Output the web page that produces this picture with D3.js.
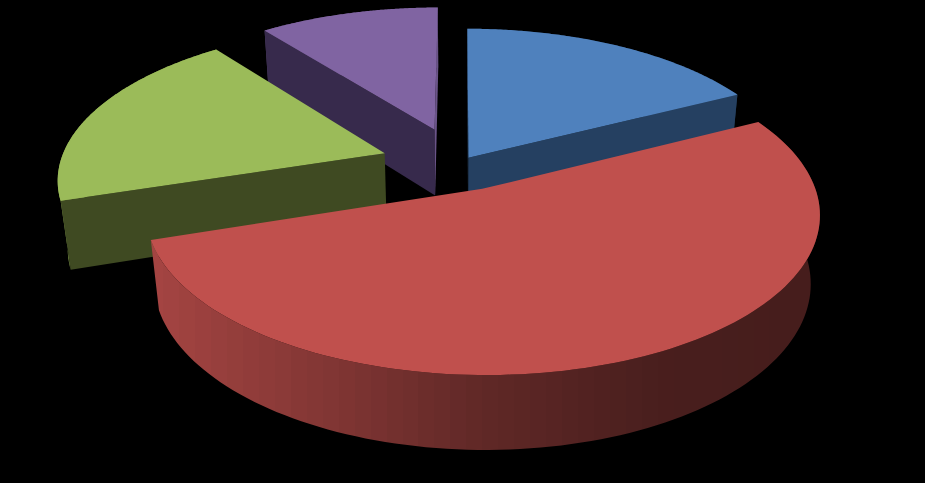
<!DOCTYPE html>
<html>
<head>
<meta charset="utf-8">
<script src="https://cdn.jsdelivr.net/npm/d3@7"></script>
<style>
  html, body { margin: 0; padding: 0; background: #000; }
  svg { display: block; }
</style>
</head>
<body>
<svg id="chart" width="925" height="483"></svg>
<script>
// share of each slice (clockwise from the top)
const sliceNames = ['blue', 'red', 'green', 'purple'];
const sliceValues = [17.5, 52.5, 19.5, 10.5];
const sliceExplode = [0.05, 0.175, 0.245, 0.25];
const topColors = ['#4f81bd', '#c0504d', '#9bbb59', '#8064a2'];
const cutColors = ['#254061', '#632523', '#3f4a22', '#372a4c'];
const edgeColors = ['#254061', '#632523', '#4f5d2b', '#6a5488'];
const drawOrder = [3, 0, 2, 1]; // back to front

const width = 925;
const height = 483;

// perspective set up
const cx = 460, cy = 164;
const radiusX = 325, radiusY = 150;
const depthK = 0.15;   // how fast things grow toward the viewer
const wallH = 69;
const wallK = 0.025;
const bands = 44;

const project = (u, v, z) => {
  const w = 1 - depthK * v + wallK * z;
  return [cx + radiusX * u / w, cy + (radiusY * v + wallH * z) / w];
};

const svg = d3.select('#chart');
svg.append('rect').attr('width', width).attr('height', height).attr('fill', '#000');
const defs = svg.append('defs');

const pie = d3.pie().sort(null).startAngle(0).endAngle(2 * Math.PI);
const arcs = pie(sliceValues);
const line = d3.line();

// side shade, left of the pie is lit and right is dark
const shade = d3.scaleLinear()
  .domain([-1, -0.4, 0, 0.5, 1])
  .range([0.88, 0.66, 0.5, 0.38, 0.36])
  .clamp(true);

drawOrder.forEach(i => {
  const a = arcs[i];
  const mid = (a.startAngle + a.endAngle) / 2;
  const ou = Math.sin(mid) * sliceExplode[i];
  const ov = -Math.cos(mid) * sliceExplode[i];
  const rim = (t, z) => project(ou + Math.sin(t), ov - Math.cos(t), z);
  const g = svg.append('g').attr('class', 'slice ' + sliceNames[i]);

  const n = 120;
  const angles = d3.range(n + 1).map(k => a.startAngle + (a.endAngle - a.startAngle) * k / n);
  const apexTop = project(ou, ov, 0);
  const apexBot = project(ou, ov, 1);

  // rim with vertical colour bands
  const xMid = apexTop[0];
  const xSpan = radiusX * 1.08;
  const mix = d3.interpolateRgb('#000', topColors[i]);
  const grad = defs.append('linearGradient')
    .attr('id', 'rim' + i)
    .attr('gradientUnits', 'userSpaceOnUse')
    .attr('x1', xMid - xSpan).attr('x2', xMid + xSpan)
    .attr('y1', 0).attr('y2', 0);
  d3.range(bands).forEach(k => {
    const col = mix(shade(2 * (k + 0.5) / bands - 1));
    grad.append('stop').attr('offset', k / bands).attr('stop-color', col);
    grad.append('stop').attr('offset', (k + 1) / bands).attr('stop-color', col);
  });
  const rimPts = angles.map(t => rim(t, 0)).concat(angles.slice().reverse().map(t => rim(t, 1)));
  g.append('path')
    .attr('d', line(rimPts) + 'Z')
    .attr('fill', `url(#rim${i})`);

  // cut walls, only the ones turned toward the viewer
  [a.startAngle, a.endAngle].forEach((t, side) => {
    const wall = [apexTop, rim(t, 0), rim(t, 1), apexBot];
    const area = d3.polygonArea(wall);
    if (side === 0 ? area <= 0 : area >= 0) return;
    const north = Math.abs(Math.sin(t)) < 0.01;
    g.append('path')
      .attr('d', line(wall) + 'Z')
      .attr('fill', north ? edgeColors[i] : cutColors[i]);
  });

  // top face
  g.append('path')
    .attr('d', line([apexTop].concat(angles.map(t => rim(t, 0)))) + 'Z')
    .attr('fill', topColors[i]);
});
</script>
</body>
</html>
